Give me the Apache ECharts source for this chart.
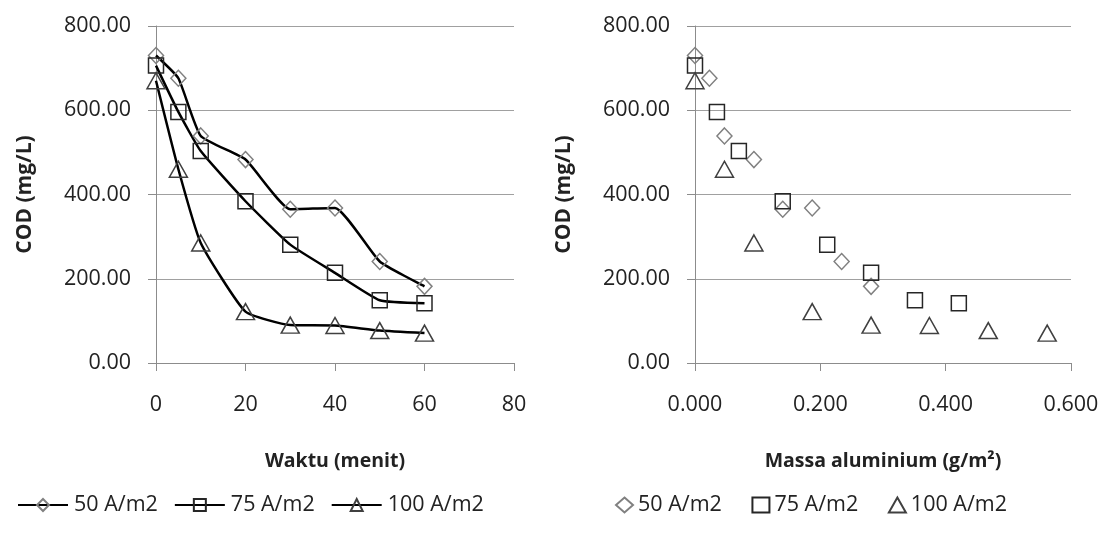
<!DOCTYPE html>
<html>
<head>
<meta charset="utf-8">
<script src="https://cdn.jsdelivr.net/npm/echarts@6/dist/echarts.min.js"></script>
<style>html,body{margin:0;padding:0;background:#fff}#c{width:1109px;height:544px}</style>
</head>
<body>
<div id="c"></div>
<script>
// Data
const timeMin = [0, 5, 10, 20, 30, 40, 50, 60];
const cod50 = [730, 676, 539, 483, 365, 368, 241, 182];
const cod75 = [706, 596, 503, 384, 281, 214, 149, 142];
const cod100 = [670, 460, 285, 122, 90, 89, 77, 71];
const mass50 = [0.000, 0.023, 0.047, 0.094, 0.140, 0.187, 0.234, 0.281];
const mass75 = [0.000, 0.035, 0.070, 0.140, 0.211, 0.281, 0.351, 0.421];
const mass100 = [0.000, 0.047, 0.094, 0.187, 0.281, 0.374, 0.468, 0.562];
const seriesNames = ['50 A/m2', '75 A/m2', '100 A/m2'];
const yTitle = 'COD (mg/L)';
const xTitleLeft = 'Waktu (menit)';
const xTitleRight = 'Massa aluminium (g/m²)';

const FONT = 'Open Sans';
const TXT = '#222';
const GRID = '#a0a0a0';
const AXIS = '#8c8c8c';

function pairs(xs, ys) { return xs.map((x, i) => [x, ys[i]]); }

const sym = [
  { symbol: 'diamond', size: [15, 16], border: '#808080' },
  { symbol: 'rect', size: 15, border: '#262626' },
  { symbol: 'triangle', size: [18, 16], border: '#404040' }
];
const codSets = [cod50, cod75, cod100];
const massSets = [mass50, mass75, mass100];

function yAxisDef(gi) {
  return {
    gridIndex: gi, type: 'value', min: 0, max: 800, interval: 200,
    name: yTitle, nameLocation: 'middle', nameGap: 120,
    nameTextStyle: { fontFamily: FONT, fontWeight: 'bold', fontSize: 21, color: TXT },
    axisLine: { show: true, lineStyle: { color: AXIS, width: 1 } },
    axisTick: { show: true, length: 8, lineStyle: { color: AXIS } },
    splitLine: { show: true, lineStyle: { color: GRID, width: 1 } },
    axisLabel: { fontFamily: FONT, fontSize: 21.5, color: TXT, margin: 25,
      formatter: v => v.toFixed(2) }
  };
}

const option = {
  animation: false,
  backgroundColor: '#fff',
  grid: [
    { left: 156, right: 1109 - 514, top: 26, bottom: 544 - 363 },
    { left: 695, right: 1109 - 1071, top: 26, bottom: 544 - 363 }
  ],
  legend: [
    {
      left: 12, top: 489, itemWidth: 50, itemHeight: 15, itemGap: 16,
      textStyle: { fontFamily: FONT, fontSize: 21.5, color: TXT, padding: [0, 0, 0, 1] },
      data: seriesNames.map(n => ({ name: n }))
    },
    {
      left: 610, top: 489, itemWidth: 17, itemHeight: 15, itemGap: 24,
      textStyle: { fontFamily: FONT, fontSize: 21.5, color: TXT, padding: [0, 0, 0, 0] },
      data: seriesNames.map(n => ({ name: n + ' ' }))
    }
  ],
  xAxis: [
    {
      gridIndex: 0, type: 'value', min: 0, max: 80, interval: 20,
      name: xTitleLeft, nameLocation: 'middle', nameGap: 88,
      nameTextStyle: { fontFamily: FONT, fontWeight: 'bold', fontSize: 19.5, color: TXT },
      axisLine: { show: true, onZero: false, lineStyle: { color: AXIS, width: 1 } },
      axisTick: { show: true, length: 8, lineStyle: { color: AXIS } },
      splitLine: { show: false },
      axisLabel: { fontFamily: FONT, fontSize: 21.5, color: TXT, margin: 31 }
    },
    {
      gridIndex: 1, type: 'value', min: 0, max: 0.6, interval: 0.2,
      name: xTitleRight, nameLocation: 'middle', nameGap: 88,
      nameTextStyle: { fontFamily: FONT, fontWeight: 'bold', fontSize: 19.5, color: TXT },
      axisLine: { show: true, onZero: false, lineStyle: { color: AXIS, width: 1 } },
      axisTick: { show: true, length: 8, lineStyle: { color: AXIS } },
      splitLine: { show: false },
      axisLabel: { fontFamily: FONT, fontSize: 21.5, color: TXT, margin: 31,
        formatter: v => v.toFixed(3) }
    }
  ],
  yAxis: [yAxisDef(0), yAxisDef(1)],
  series: []
};

seriesNames.forEach((n, i) => {
  option.series.push({
    name: n, type: 'line', xAxisIndex: 0, yAxisIndex: 0,
    data: pairs(timeMin, codSets[i]), smooth: 0.15,
    symbol: sym[i].symbol, symbolSize: sym[i].size, showSymbol: true,
    lineStyle: { color: '#000', width: 2.5 },
    itemStyle: { color: 'rgba(255,255,255,0)', borderColor: sym[i].border, borderWidth: 1.5 },
    z: 3
  });
});
seriesNames.forEach((n, i) => {
  option.series.push({
    name: n + ' ', type: 'scatter', xAxisIndex: 1, yAxisIndex: 1,
    data: pairs(massSets[i], codSets[i]),
    symbol: sym[i].symbol, symbolSize: sym[i].size,
    itemStyle: { color: 'rgba(255,255,255,0)', borderColor: sym[i].border, borderWidth: 1.5, opacity: 1 }
  });
});

const chart = echarts.init(document.getElementById('c'), null, { renderer: 'canvas' });
chart.setOption(option);
</script>
</body>
</html>
